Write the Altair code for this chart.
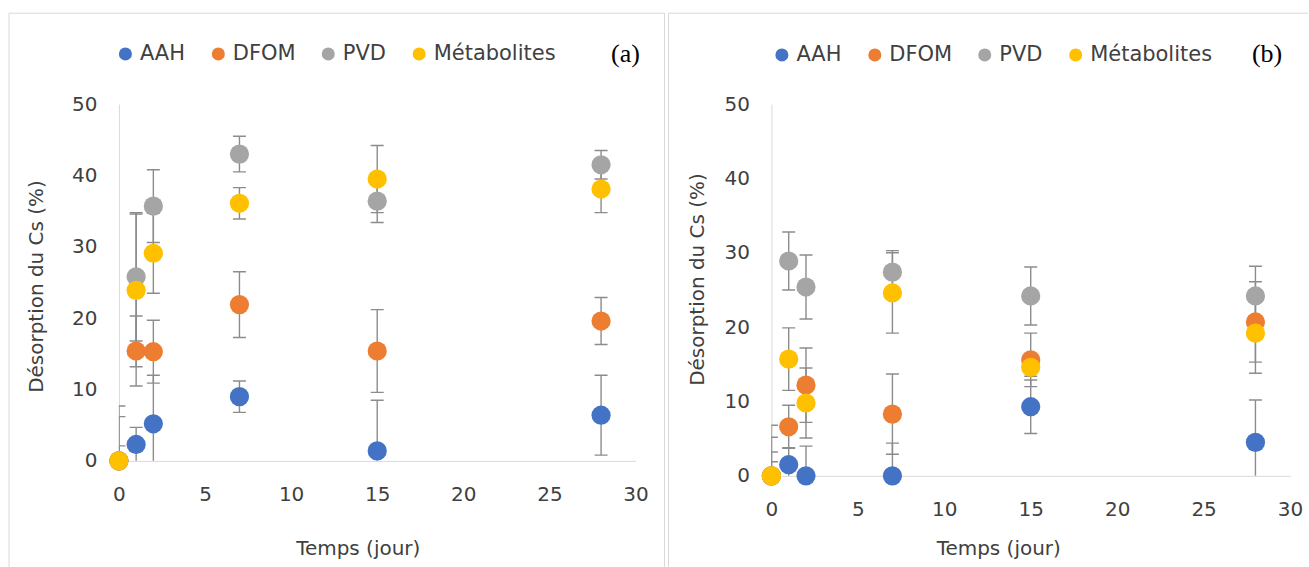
import altair as alt
import pandas as pd

# Sampling days
days = [0, 1, 2, 7, 15, 28]
series = ["AAH", "DFOM", "PVD", "Métabolites"]
colors = ["#4472C4", "#ED7D31", "#A5A5A5", "#FFC000"]

# Panel (a): mean desorption (%) and error (+/-)
a_aah = [0, 2.3, 5.2, 9.0, 1.4, 6.4]
a_aah_err = [6.2, 2.4, 6.8, 2.2, 7.1, 5.6]
a_dfom = [0, 15.4, 15.3, 21.9, 15.4, 19.6]
a_dfom_err = [7.7, 4.9, 4.4, 4.6, 5.8, 3.3]
a_pvd = [0, 25.8, 35.7, 43.0, 36.4, 41.5]
a_pvd_err = [2.1, 9.0, 5.1, 2.5, 3.0, 2.0]
a_met = [0, 23.9, 29.1, 36.1, 39.5, 38.1]
a_met_err = [0, 10.7, 5.6, 2.2, 4.7, 3.3]

# Panel (b): mean desorption (%) and error (+/-)
b_aah = [0, 1.5, 0, 0, 9.3, 4.5]
b_aah_err = [5.2, 2.3, 4.0, 4.4, 3.6, 5.7]
b_dfom = [0, 6.6, 12.2, 8.3, 15.6, 20.7]
b_dfom_err = [6.8, 2.9, 5.0, 5.4, 3.6, 5.4]
b_pvd = [0, 28.9, 25.4, 27.4, 24.2, 24.2]
b_pvd_err = [1.9, 3.9, 4.3, 2.9, 3.9, 4.0]
b_met = [0, 15.7, 9.8, 24.6, 14.6, 19.2]
b_met_err = [3.2, 4.2, 4.7, 5.4, 1.2, 5.4]

x_ticks = [0, 5, 10, 15, 20, 25, 30]
y_ticks = [0, 10, 20, 30, 40, 50]

FONT = "DejaVu Sans"
TXT = "#404040"
LINE = "#D9D9D9"
ERR = "#8C8C8C"


def long_table(means, errs):
    rows = []
    for k, s in enumerate(series):
        for d, m, e in zip(days, means[k], errs[k]):
            rows.append({"jour": d, "serie": s, "ordre": k, "val": m,
                         "bas": m - e, "haut": m + e})
    return pd.DataFrame(rows)


df_a = long_table([a_aah, a_dfom, a_pvd, a_met],
                  [a_aah_err, a_dfom_err, a_pvd_err, a_met_err])
df_b = long_table([b_aah, b_dfom, b_pvd, b_met],
                  [b_aah_err, b_dfom_err, b_pvd_err, b_met_err])


def panel(df, w, h, tag, tag_x, leg_x, leg_y, yt_x, yt_y, xt_x, xt_y, frame):
    xscale = alt.Scale(domain=[0, 30], nice=False, zero=False)
    yscale = alt.Scale(domain=[0, 50], nice=False)
    xaxis = alt.Axis(values=x_ticks, title="Temps (jour)", titleX=xt_x, titleY=xt_y,
                     titleAlign="center", titleBaseline="middle", labelPadding=24,
                     labelFlush=False)
    yaxis = alt.Axis(values=y_ticks, title="Désorption du Cs (%)", titleX=yt_x,
                     titleY=yt_y, titleAlign="center", titleBaseline="middle",
                     labelPadding=22, labelFlush=False)
    x = alt.X("jour:Q", scale=xscale, axis=xaxis)

    base = alt.Chart(df)
    bars = base.mark_rule(color=ERR, strokeWidth=1.4, clip=True).encode(
        x=x, y=alt.Y("bas:Q", scale=yscale, axis=yaxis), y2="haut:Q")
    caps = base.transform_fold(["bas", "haut"], as_=["bout", "yv"]).mark_tick(
        orient="horizontal", size=13, thickness=1.4, color=ERR, clip=True, opacity=1
    ).encode(x=x, y=alt.Y("yv:Q", scale=yscale, axis=yaxis))
    points = base.mark_point(filled=True, size=370, opacity=1).encode(
        x=x,
        y=alt.Y("val:Q", scale=yscale, axis=yaxis),
        color=alt.Color("serie:N", scale=alt.Scale(domain=series, range=colors),
                        legend=alt.Legend(orient="none", legendX=leg_x, legendY=leg_y,
                                          direction="horizontal", columns=4, title=None,
                                          symbolType="circle", symbolSize=170,
                                          symbolStrokeWidth=0, symbolOpacity=1,
                                          labelFont=FONT, labelFontSize=21,
                                          labelColor=TXT, labelOffset=4,
                                          columnPadding=22)),
        order=alt.Order("ordre:Q"),
    )
    one = pd.DataFrame({"t": [tag]})
    label = alt.Chart(one).mark_text(font="Liberation Serif", fontSize=26,
                                     color="#000000", baseline="middle").encode(
        x=alt.value(tag_x), y=alt.value(-50), text="t:N")
    edges = []
    for (x1, x2, y1, y2) in frame:
        edges.append(alt.Chart(one).mark_rule(color=LINE, strokeWidth=1).encode(
            x=alt.value(x1), x2=alt.value(x2), y=alt.value(y1), y2=alt.value(y2)))
    return alt.layer(*edges, bars, caps, points, label).properties(width=w, height=h)


pa = panel(df_a, 517, 357, "(a)", 507, -4, -61, -82, 182, 239, 88,
           [(-110, 546, -91, -91), (-110, -110, -91, 463), (546, 546, -91, 463)])
pb = panel(df_b, 519, 372, "(b)", 496, 0, -60, -74, 175, 227, 73,
           [(-103, 537, -91, -91), (-103, -103, -91, 463)])

chart = alt.hconcat(pa, pb, spacing=136, bounds="flush").resolve_scale(
    x="independent", y="independent", color="independent"
).resolve_legend(color="independent").configure_axis(
    domainColor=LINE, domainWidth=1, ticks=False, grid=False,
    labelFont=FONT, labelFontSize=20, labelColor=TXT,
    titleFont=FONT, titleFontSize=20, titleColor=TXT, titleFontWeight="normal",
).configure_view(stroke=None).properties(
    padding={"left": 8, "top": 12, "right": 0, "bottom": 0},
    background="white",
)

chart.save("out.html", embed_options={"renderer": "svg", "actions": False})
